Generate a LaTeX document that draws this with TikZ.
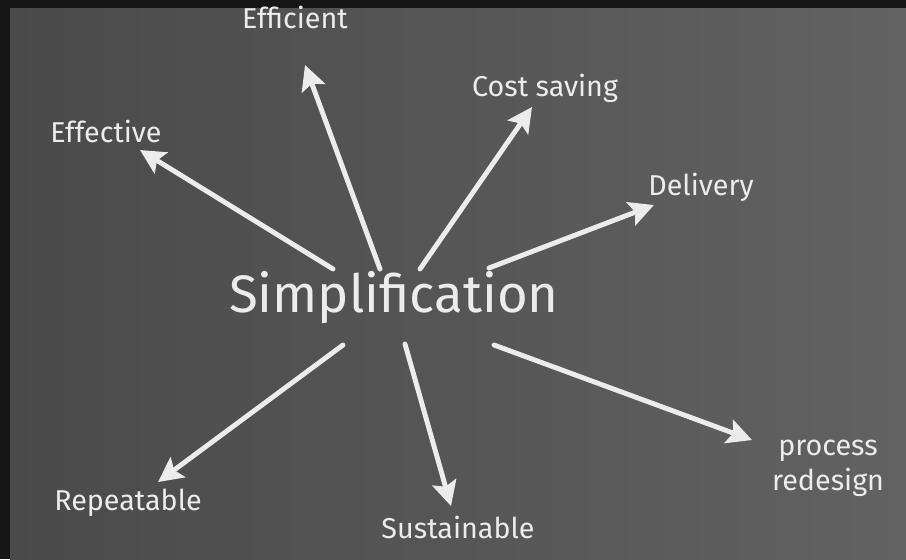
\documentclass[tikz,border=0pt]{standalone}
\usepackage{fontspec}
\setmainfont{Fira Sans}
\usetikzlibrary{arrows.meta}
\tikzstyle{board} = [x = 0.03cm, y = -0.03cm]
\definecolor{frameColor}{RGB}{22,22,22}
\definecolor{boardDark}{RGB}{74,74,74}
\definecolor{boardLight}{RGB}{98,98,98}
\definecolor{chalkColor}{RGB}{236,236,236}
\tikzstyle{chalkText} = [text=chalkColor, inner sep=0pt, font=\fontsize{24.5}{30}\selectfont]
\tikzstyle{chalkTitle} = [text=chalkColor, inner sep=0pt, font=\fontsize{45}{50}\selectfont]
\tikzstyle{chalkArrow} = [draw=chalkColor, line width=4.2pt, line cap=round, -{Stealth[length=0.74cm, width=0.74cm, inset=0.14cm]}]

\begin{document}
\begin{tikzpicture}[board]
        \useasboundingbox (0,0) rectangle (906,559);
        % board and its dark frame
        \fill [frameColor] (0,0) rectangle (906,559);
        \shade [left color=boardDark, right color=boardLight] (10,8) rectangle (906,559);

        % words
        \node [chalkTitle] (simp) at (394,298) {Simplification};
        \node [chalkText] (effective) at (106,131) {Effective};
        \node [chalkText] (efficient) at (295,17) {Efficient};
        \node [chalkText] (cost) at (545,88) {Cost saving};
        \node [chalkText] (delivery) at (701,187) {Delivery};
        \node [chalkText, align=center] (process) at (828,468) {process\\redesign};
        \node [chalkText] (repeatable) at (128,503) {Repeatable};
        \node [chalkText] (sustainable) at (458,527) {Sustainable};

        % where the arrows start and end
        \coordinate (effectiveStart) at (333,269);
        \coordinate (effectiveTip) at (140,150);
        \coordinate (efficientStart) at (380,269);
        \coordinate (efficientTip) at (305,65);
        \coordinate (costStart) at (420,269);
        \coordinate (costTip) at (532,107);
        \coordinate (deliveryStart) at (489,268);
        \coordinate (deliveryTip) at (654,205);
        \coordinate (processStart) at (494,345);
        \coordinate (processTip) at (752,440);
        \coordinate (sustainableStart) at (405,344);
        \coordinate (sustainableTip) at (451,506);
        \coordinate (repeatableStart) at (343,345);
        \coordinate (repeatableTip) at (158,482);

        \foreach \word in {effective, efficient, cost, delivery, process, sustainable, repeatable} {
          \draw [chalkArrow] (\word Start) -- (\word Tip);
        }
      \end{tikzpicture}
\end{document}
